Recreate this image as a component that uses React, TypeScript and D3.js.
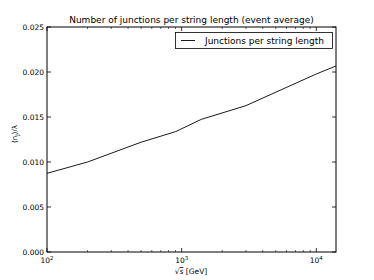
import React from 'react';
import * as d3 from 'd3';

// sqrt(s) in GeV and junctions per string length
const energies = [100, 200, 500, 900, 1400, 3000, 10000, 14000];
const junctions = [0.00874, 0.0100, 0.0122, 0.01337, 0.01474, 0.01626, 0.01978, 0.02067];
const yTicks = [0, 0.005, 0.01, 0.015, 0.02, 0.025];
const xMajor = [100, 1000, 10000];
const xMinor = [200, 300, 400, 500, 600, 700, 800, 900, 2000, 3000, 4000, 5000, 6000, 7000, 8000, 9000];

const W = 374;
const H = 280;
const margin = { top: 27, right: 38, bottom: 28, left: 47 };
const font = 'DejaVu Sans, sans-serif';

const App = () => {
  const x = d3.scaleLog().domain([100, 14000]).range([margin.left, W - margin.right]);
  const y = d3.scaleLinear().domain([0, 0.025]).range([H - margin.bottom, margin.top]);
  const x0 = margin.left, x1 = W - margin.right;
  const y0 = H - margin.bottom, y1 = margin.top;

  const line = d3.line<number>()
    .x((_, i) => x(energies[i]))
    .y(d => y(d));

  return (
    <svg width={W} height={H} style={{ position: 'absolute', left: 0, top: 0, fontFamily: font }}>
      <rect width={W} height={H} fill="#fff" />
      <path d={line(junctions) || ''} fill="none" stroke="#000" strokeWidth={0.9} />

      {/* ticks inside, all four sides */}
      {yTicks.map(t => (
        <g key={t}>
          <line x1={x0} x2={x0 + 4} y1={y(t)} y2={y(t)} stroke="#000" strokeWidth={0.8} />
          <line x1={x1} x2={x1 - 4} y1={y(t)} y2={y(t)} stroke="#000" strokeWidth={0.8} />
          <text x={x0 - 3} y={y(t)} dy="0.35em" textAnchor="end" fontSize={7.5}>{t.toFixed(3)}</text>
        </g>
      ))}
      {xMajor.map(t => (
        <g key={t}>
          <line x1={x(t)} x2={x(t)} y1={y0} y2={y0 - 4} stroke="#000" strokeWidth={0.8} />
          <line x1={x(t)} x2={x(t)} y1={y1} y2={y1 + 4} stroke="#000" strokeWidth={0.8} />
          <text x={x(t)} y={y0 + 11} textAnchor="middle" fontSize={7.5}>
            10<tspan dy={-3} fontSize={5.5}>{Math.round(Math.log10(t))}</tspan>
          </text>
        </g>
      ))}
      {xMinor.map(t => (
        <g key={t}>
          <line x1={x(t)} x2={x(t)} y1={y0} y2={y0 - 2} stroke="#000" strokeWidth={0.6} />
          <line x1={x(t)} x2={x(t)} y1={y1} y2={y1 + 2} stroke="#000" strokeWidth={0.6} />
        </g>
      ))}

      <rect x={x0} y={y1} width={x1 - x0} height={y0 - y1} fill="none" stroke="#000" strokeWidth={1} />

      {/* legend */}
      <rect x={175.5} y={32.5} width={157} height={16} fill="#fff" stroke="#000" strokeWidth={0.8} />
      <line x1={181} x2={195} y1={40.5} y2={40.5} stroke="#000" strokeWidth={0.9} />
      <text x={205} y={40.5} dy="0.35em" fontSize={9}>Junctions per string length</text>

      <text x={(x0 + x1) / 2} y={23} textAnchor="middle" fontSize={9}>
        Number of junctions per string length (event average)
      </text>
      <text x={191} y={274} textAnchor="middle" fontSize={7.5}>√<tspan textDecoration="overline" fontStyle="italic">s</tspan> [GeV]</text>
      <text transform={`translate(17,134) rotate(-90)`} textAnchor="middle" fontSize={7}>
        ⟨n<tspan dy={1.5} fontSize={5}>J</tspan><tspan dy={-1.5}>⟩/λ</tspan>
      </text>
    </svg>
  );
};

export default App;
